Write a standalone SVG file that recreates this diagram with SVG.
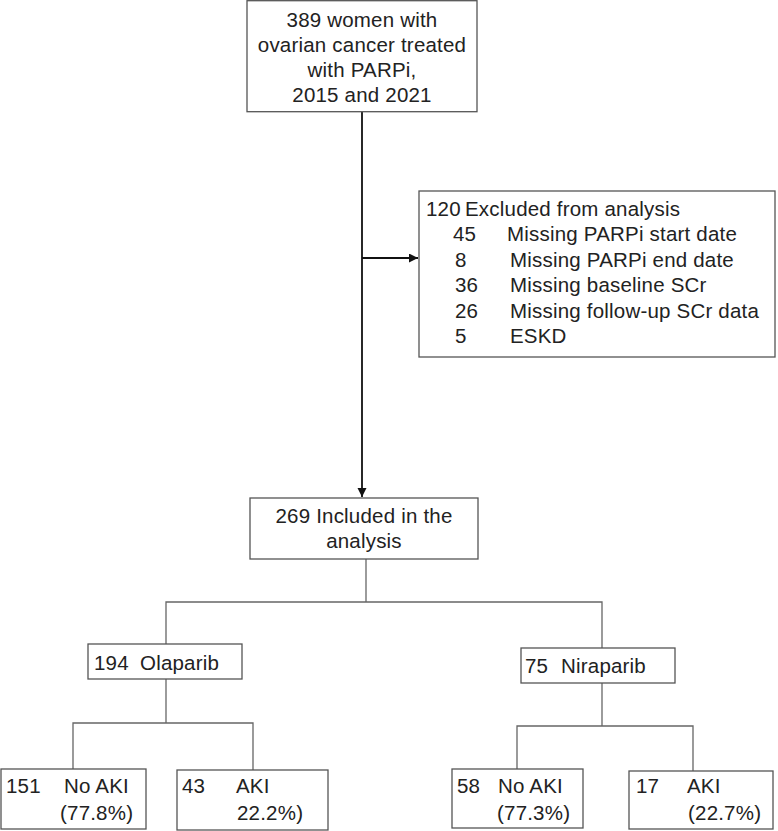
<svg xmlns="http://www.w3.org/2000/svg" width="778" height="831" viewBox="0 0 778 831">
<defs>
<style>
.box{fill:#fff;stroke:#555;stroke-width:1.3}
.t{font-family:"Liberation Sans",Arial,sans-serif;font-size:20.5px;fill:#222;letter-spacing:0.2px}
.c{text-anchor:middle}
.main{stroke:#111;stroke-width:1.8;fill:none}
.br{stroke:#666;stroke-width:1.3;fill:none}
</style>
<marker id="ah" markerWidth="10" markerHeight="10" refX="9" refY="4.5" orient="auto" markerUnits="userSpaceOnUse">
<path d="M0,0 L9,4.5 L0,9 z" fill="#111"/>
</marker>
</defs>
<rect width="778" height="831" fill="#fff"/>
<g id="connectors">
<line class="main" x1="362" y1="112" x2="362" y2="497" marker-end="url(#ah)"/>
<line class="main" x1="362" y1="258" x2="418" y2="258" marker-end="url(#ah)"/>
<polyline class="br" points="366,559 366,602"/>
<polyline class="br" points="166,644 166,602 602,602 602,648"/>
<polyline class="br" points="73,769 73,723 253,723 253,770"/>
<line class="br" x1="166" y1="679" x2="166" y2="723"/>
<polyline class="br" points="517,769 517,726 693,726 693,771"/>
<line class="br" x1="602" y1="683" x2="602" y2="726"/>
</g>
<g id="n_top">
<rect class="box" x="247" y="0.7" width="230" height="111"/>
<text class="t c" x="362" y="27">389 women with</text>
<text class="t c" x="362" y="51.5">ovarian cancer treated</text>
<text class="t c" x="362" y="76.5">with PARPi,</text>
<text class="t c" x="362" y="101.5">2015 and 2021</text>
</g>
<g id="n_excluded">
<rect class="box" x="419" y="191" width="356" height="166"/>
<text class="t" x="426" y="216">120</text><text class="t" x="465" y="216">Excluded from analysis</text>
<text class="t" x="453" y="241.4">45</text><text class="t" x="507" y="241.4">Missing PARPi start date</text>
<text class="t" x="455" y="266.8">8</text><text class="t" x="510" y="266.8">Missing PARPi end date</text>
<text class="t" x="455" y="292.2">36</text><text class="t" x="510" y="292.2">Missing baseline SCr</text>
<text class="t" x="455" y="317.6">26</text><text class="t" x="510" y="317.6">Missing follow-up SCr data</text>
<text class="t" x="455" y="343">5</text><text class="t" x="510" y="343">ESKD</text>
</g>
<g id="n_included">
<rect class="box" x="250" y="498" width="228" height="61"/>
<text class="t c" x="364" y="523">269 Included in the</text>
<text class="t c" x="364" y="548">analysis</text>
</g>
<g id="n_olaparib">
<rect class="box" x="88" y="644" width="154" height="35"/>
<text class="t" x="94" y="670">194</text><text class="t" x="140" y="670">Olaparib</text>
</g>
<g id="n_niraparib">
<rect class="box" x="521" y="648" width="154" height="35"/>
<text class="t" x="525" y="673">75</text><text class="t" x="561" y="673">Niraparib</text>
</g>
<g id="n_ola_noaki">
<rect class="box" x="1" y="769" width="145" height="60"/>
<text class="t" x="6" y="793">151</text><text class="t" x="64" y="793">No AKI</text>
<text class="t" x="60" y="820">(77.8%)</text>
</g>
<g id="n_ola_aki">
<rect class="box" x="177" y="770" width="151" height="60"/>
<text class="t" x="182" y="793">43</text><text class="t" x="236" y="793">AKI</text>
<text class="t" x="237" y="820">22.2%)</text>
</g>
<g id="n_nir_noaki">
<rect class="box" x="452" y="769" width="131" height="59"/>
<text class="t" x="457" y="793">58</text><text class="t" x="498" y="793">No AKI</text>
<text class="t" x="497" y="820">(77.3%)</text>
</g>
<g id="n_nir_aki">
<rect class="box" x="629" y="771" width="144" height="58"/>
<text class="t" x="636" y="793">17</text><text class="t" x="687" y="793">AKI</text>
<text class="t" x="688" y="820">(22.7%)</text>
</g>
</svg>
